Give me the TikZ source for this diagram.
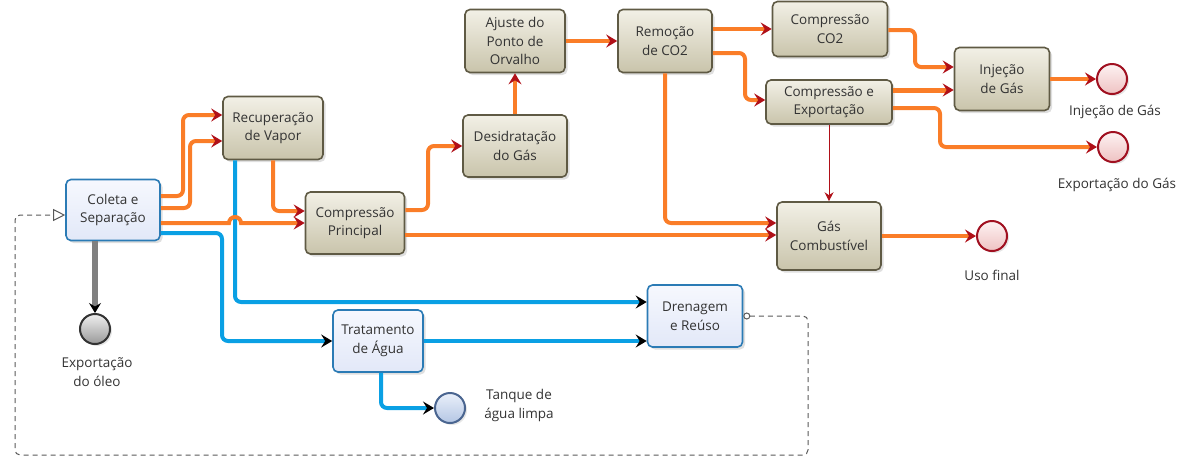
\documentclass[tikz,border=0pt]{standalone}
\usepackage{fontspec}
\setmainfont{Open Sans}
\usetikzlibrary{arrows.meta,shadows}
\definecolor{lorange}{HTML}{FA7D28}
\definecolor{lblue}{HTML}{0AA0E4}
\definecolor{arrowred}{HTML}{B01018}
\definecolor{gborder}{HTML}{5F5A44}
\definecolor{gtop}{HTML}{F2F0E6}
\definecolor{gbot}{HTML}{C9C4AB}
\definecolor{bborder}{HTML}{2B7BB5}
\definecolor{btop}{HTML}{F6F8FE}
\definecolor{bbot}{HTML}{E2E8F8}
\definecolor{txt}{HTML}{333333}
\definecolor{rborder}{HTML}{A01020}
\definecolor{rtop}{HTML}{FDF2F2}
\definecolor{rbot}{HTML}{EEC2C2}
\definecolor{cborder}{HTML}{4A6590}
\definecolor{ctop}{HTML}{EAF0FA}
\definecolor{cbot}{HTML}{B4C6E4}
\tikzset{
  procbox/.style={line width=1.6pt, rounded corners=5pt, align=center, inner sep=2pt,
    text=txt, font=\fontsize{13.5}{18.5}\selectfont,
    drop shadow={opacity=0.25, shadow xshift=2.5pt, shadow yshift=-2.5pt}},
  gbox/.style={procbox, draw=gborder, top color=gtop, bottom color=gbot},
  bbox/.style={procbox, draw=bborder, top color=btop, bottom color=bbot},
  evbase/.style={circle, line width=2pt, minimum size=30pt, inner sep=0pt,
    drop shadow={opacity=0.2, shadow xshift=2pt, shadow yshift=-2pt}},
  endev/.style={evbase, draw=rborder, top color=rtop, bottom color=rbot},
  grayev/.style={evbase, draw=black!80, top color=black!6, bottom color=black!40},
  blueev/.style={evbase, draw=cborder, top color=ctop, bottom color=cbot},
  lbl/.style={align=center, text=txt, font=\fontsize{13.5}{19}\selectfont, inner sep=0pt},
  oline/.style={draw=lorange, line width=4pt, rounded corners=6pt,
    -{Stealth[length=11pt, width=13pt, inset=4pt, color=arrowred]}},
  bline/.style={draw=lblue, line width=4pt, rounded corners=6pt,
    -{Stealth[length=11pt, width=13pt, inset=4pt, color=black]}},
  gline/.style={draw=black!50, line width=6pt,
    -{Stealth[length=10pt, width=12pt, inset=3.5pt, color=black]}},
  thinred/.style={draw=arrowred, line width=1pt,
    -{Stealth[length=9pt, width=9pt, inset=3pt]}},
  dashline/.style={draw=black!65, line width=1pt, dash pattern=on 5pt off 4pt, rounded corners=5pt,
    {Circle[open, length=7pt, width=7pt, fill=white]}-{Triangle[open, length=12pt, width=12pt, fill=white]}},
}
\begin{document}
\begin{tikzpicture}[x=1pt,y=-1pt]
\useasboundingbox (0,0) rectangle (1185,459);

% process boxes
\node[bbox, minimum width=94pt, minimum height=61pt] (coleta) at (113,210) {Coleta e\\Separação};
\node[gbox, minimum width=100pt, minimum height=63pt] (recup) at (273,128) {Recuperação\\de Vapor};
\node[gbox, minimum width=99pt, minimum height=62pt] (comprP) at (355,223) {Compressão\\Principal};
\node[gbox, minimum width=104pt, minimum height=62pt] (desid) at (515,146) {Desidratação\\do Gás};
\node[gbox, minimum width=100pt, minimum height=63pt] (ajuste) at (515,41) {Ajuste do\\Ponto de\\Orvalho};
\node[gbox, minimum width=94pt, minimum height=63pt] (remoc) at (665,41) {Remoção\\de CO2};
\node[gbox, minimum width=115pt, minimum height=55pt] (compCO) at (830,29) {Compressão\\CO2};
\node[gbox, minimum width=126pt, minimum height=44pt] (compExp) at (829,102) {Compressão e\\Exportação};
\node[gbox, minimum width=95pt, minimum height=63pt] (injec) at (1002,79) {Injeção\\de Gás};
\node[gbox, minimum width=104pt, minimum height=68pt] (gasComb) at (829,236) {Gás\\Combustível};
\node[bbox, minimum width=95pt, minimum height=62pt] (dren) at (695,316) {Drenagem\\e Reúso};
\node[bbox, minimum width=90pt, minimum height=62pt] (trat) at (378,341) {Tratamento\\de Água};

% events
\node[grayev] (oleo) at (95,329) {};
\node[blueev] (tanque) at (450,408) {};
\node[endev] (injEnd) at (1112,79) {};
\node[endev] (expEnd) at (1113,147) {};
\node[endev] (uso) at (992,236) {};

% labels
\node[lbl] (oleoL) at (97,372) {Exportação\\do óleo};
\node[lbl] (tanqueL) at (519,405) {Tanque de\\água limpa};
\node[lbl] (injEndL) at (1115,112) {Injeção de Gás};
\node[lbl] (expEndL) at (1117,185) {Exportação do Gás};
\node[lbl] (usoL) at (992,275) {Uso final};

% blue connectors
\draw[bline] ([xshift=-38pt]recup.south) -- (235,302) -- ([yshift=14pt]dren.west);
\draw[bline] ([yshift=-23pt]coleta.east) -- (222,233) -- (222,341) -- (trat.west);
\draw[bline] (trat.east) -- ([yshift=-25pt]dren.west);
\draw[bline] ([xshift=3pt]trat.south) -- (381,408) -- (tanque.west);

% gray connector
\draw[gline] ([xshift=-18pt]coleta.south) -- (oleo.north);

% orange connectors
\draw[oline] ([yshift=14pt]coleta.east) -- (183,196) -- (183,115) -- ([yshift=13pt]recup.west);
\draw[oline] ([yshift=2pt]coleta.east) -- (190,208) -- (190,141) -- ([yshift=-13pt]recup.west);
\draw[oline, rounded corners=0pt] ([yshift=-13pt]coleta.east) -- (229,223)
  arc[start angle=180, end angle=360, radius=6] -- (comprP.west);
\draw[oline] (recup.south) -- (273,211) -- ([yshift=12pt]comprP.west);
\draw[oline] ([yshift=13pt]comprP.east) -- (428,210) -- (428,146) -- (desid.west);
\draw[oline] ([yshift=-12pt]comprP.east) -- ([yshift=1pt]gasComb.west);
\draw[oline] (desid.north) -- (ajuste.south);
\draw[oline] (ajuste.east) -- (remoc.west);
\draw[oline] ([yshift=12pt]remoc.east) -- (compCO.west);
\draw[oline] ([yshift=-12pt]remoc.east) -- (745,53) -- (745,100) -- ([yshift=2pt]compExp.west);
\draw[oline] (remoc.south) -- (665,223) -- ([yshift=13pt]gasComb.west);
\draw[oline] ([yshift=-1pt]compCO.east) -- (915,30) -- (915,67) -- ([yshift=12pt]injec.west);
\draw[oline, line width=5pt] ([yshift=12pt]compExp.east) -- ([yshift=-11pt]injec.west);
\draw[oline] ([yshift=-6pt]compExp.east) -- (940,108) -- (940,147) -- (expEnd.west);
\draw[oline] (injec.east) -- (injEnd.west);
\draw[oline] (gasComb.east) -- (uso.west);
\draw[thinred] (compExp.south) -- (gasComb.north);

% dashed message flow
\draw[dashline] (dren.east) -- (808,316) -- (808,455) -- (15,455) -- (15,215) -- ([yshift=-5pt]coleta.west);
\end{tikzpicture}
\end{document}
